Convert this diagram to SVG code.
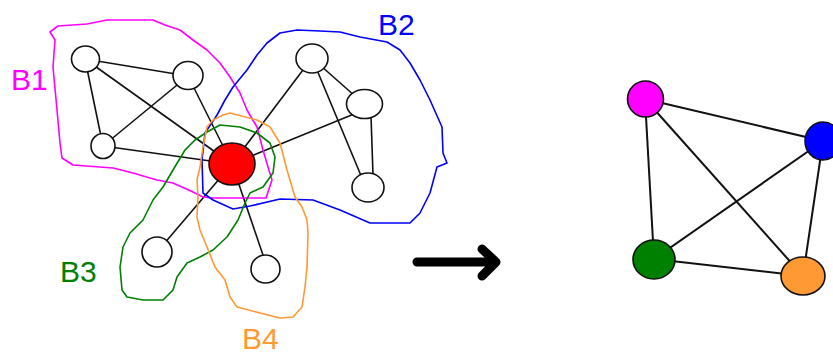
<svg xmlns="http://www.w3.org/2000/svg" width="833" height="354" viewBox="0 0 833 354">
<style>
.e{stroke:#111;stroke-width:1.6;fill:none}
.e2{stroke:#111;stroke-width:2;fill:none}
.n{stroke:#111;stroke-width:1.6;fill:#fff}
.b{fill:none;stroke-width:1.6;stroke-linejoin:round}
.lbl{font-family:"Liberation Sans",Arial,sans-serif;font-size:30px}
</style>
<rect width="833" height="354" fill="#fff"/>
<g id="connectors">
<line class="e" x1="85" y1="59" x2="188" y2="76"/>
<line class="e" x1="85" y1="59" x2="103" y2="146"/>
<line class="e" x1="85" y1="59" x2="232" y2="164"/>
<line class="e" x1="188" y1="76" x2="103" y2="146"/>
<line class="e" x1="188" y1="76" x2="232" y2="164"/>
<line class="e" x1="103" y1="146" x2="232" y2="164"/>
<line class="e" x1="232" y1="164" x2="312" y2="58"/>
<line class="e" x1="232" y1="164" x2="354" y2="114"/>
<line class="e" x1="312" y1="58" x2="364" y2="104"/>
<line class="e" x1="312" y1="58" x2="362" y2="178"/>
<line class="e" x1="371" y1="116" x2="373" y2="175"/>
<line class="e" x1="232" y1="164" x2="157" y2="252"/>
<line class="e" x1="232" y1="164" x2="264" y2="258"/>
<line class="e2" x1="645" y1="99" x2="823" y2="141"/>
<line class="e2" x1="645" y1="99" x2="654" y2="259"/>
<line class="e2" x1="645" y1="99" x2="803" y2="276"/>
<line class="e2" x1="823" y1="141" x2="654" y2="259"/>
<line class="e2" x1="823" y1="141" x2="803" y2="276"/>
<line class="e2" x1="654" y1="259" x2="803" y2="276"/>
</g>
<g id="B1">
<path class="b" stroke="#ff00ff" d="M50,32 L58,26 L87,24 L107,20 L153,20 L165,25 L180,30 L193,40 L207,50 L220,63 L230,77 L240,93 L247,110 L257,127 L263,150 L268,167 L272,180 L266,198 L213,198 L203,197 L193,192 L173,183 L157,180 L133,173 L113,168 L73,165 L62,158 L60,143 L57,110 L53,67 L55,40 Z"/>
<text class="lbl" x="11" y="90" fill="#ff00ff">B1</text>
</g>
<g id="B2">
<path class="b" stroke="#0000ff" d="M203,193 L202,160 L205,133 L217,115 L225,100 L233,87 L247,70 L257,55 L267,43 L280,33 L297,30 L320,31 L340,32 L360,37 L387,42 L400,50 L410,63 L420,80 L430,100 L442,127 L443,153 L447,163 L437,167 L430,193 L420,213 L410,223 L370,223 L340,210 L313,200 L280,199 L250,206 L233,209 L213,200 Z"/>
<text class="lbl" x="378" y="35" fill="#0000ff">B2</text>
</g>
<g id="B3">
<path class="b" stroke="#008000" d="M120,267 L123,247 L130,233 L143,220 L153,200 L163,187 L173,170 L185,150 L195,140 L207,132 L220,125 L240,127 L257,133 L270,143 L275,157 L273,173 L263,187 L250,193 L245,203 L238,220 L227,237 L213,250 L200,257 L187,263 L177,277 L173,290 L163,300 L143,300 L127,297 L122,290 Z"/>
<text class="lbl" x="60" y="282" fill="#008000">B3</text>
</g>
<g id="B4">
<path class="b" stroke="#ff9933" d="M198,197 L197,180 L200,167 L203,147 L207,127 L213,120 L223,115 L230,113 L257,120 L270,127 L280,143 L287,170 L295,197 L302,207 L307,220 L308,233 L307,267 L305,287 L302,307 L293,317 L280,318 L260,313 L237,307 L230,297 L225,280 L215,267 L207,247 L200,230 L197,217 Z"/>
<text class="lbl" x="242" y="349" fill="#ff9933">B4</text>
</g>
<g id="n1"><ellipse class="n" cx="85.5" cy="59" rx="14" ry="13"/></g>
<g id="n2"><ellipse class="n" cx="188" cy="75.5" rx="15" ry="14"/></g>
<g id="n3"><ellipse class="n" cx="103" cy="146" rx="12" ry="12.5"/></g>
<g id="n4"><ellipse class="n" cx="312" cy="58.5" rx="16" ry="14.5"/></g>
<g id="n5"><ellipse class="n" cx="364.5" cy="104" rx="18" ry="14.5"/></g>
<g id="n6"><ellipse class="n" cx="368" cy="187.5" rx="16" ry="14.5"/></g>
<g id="n7"><ellipse class="n" cx="157" cy="252" rx="15" ry="15"/></g>
<g id="n8"><ellipse class="n" cx="265.5" cy="269" rx="14.5" ry="14"/></g>
<g id="red"><ellipse class="n" fill="#ff0000" style="fill:#ff0000" cx="232" cy="164" rx="23" ry="21"/></g>
<g id="arrow">
<path d="M417,262 L494,262 M482,249 L496,262 L482,276" fill="none" stroke="#000" stroke-width="9" stroke-linecap="round" stroke-linejoin="round"/>
</g>
<g id="m"><ellipse class="n" style="fill:#ff00ff" cx="645.5" cy="99" rx="18" ry="18"/></g>
<g id="bl"><ellipse class="n" style="fill:#0000ff" cx="823" cy="141" rx="18" ry="19"/></g>
<g id="gr"><ellipse class="n" style="fill:#008000" cx="654" cy="259.5" rx="21" ry="19.5"/></g>
<g id="or"><ellipse class="n" style="fill:#ff9933" cx="803" cy="276" rx="22" ry="19"/></g>
</svg>
